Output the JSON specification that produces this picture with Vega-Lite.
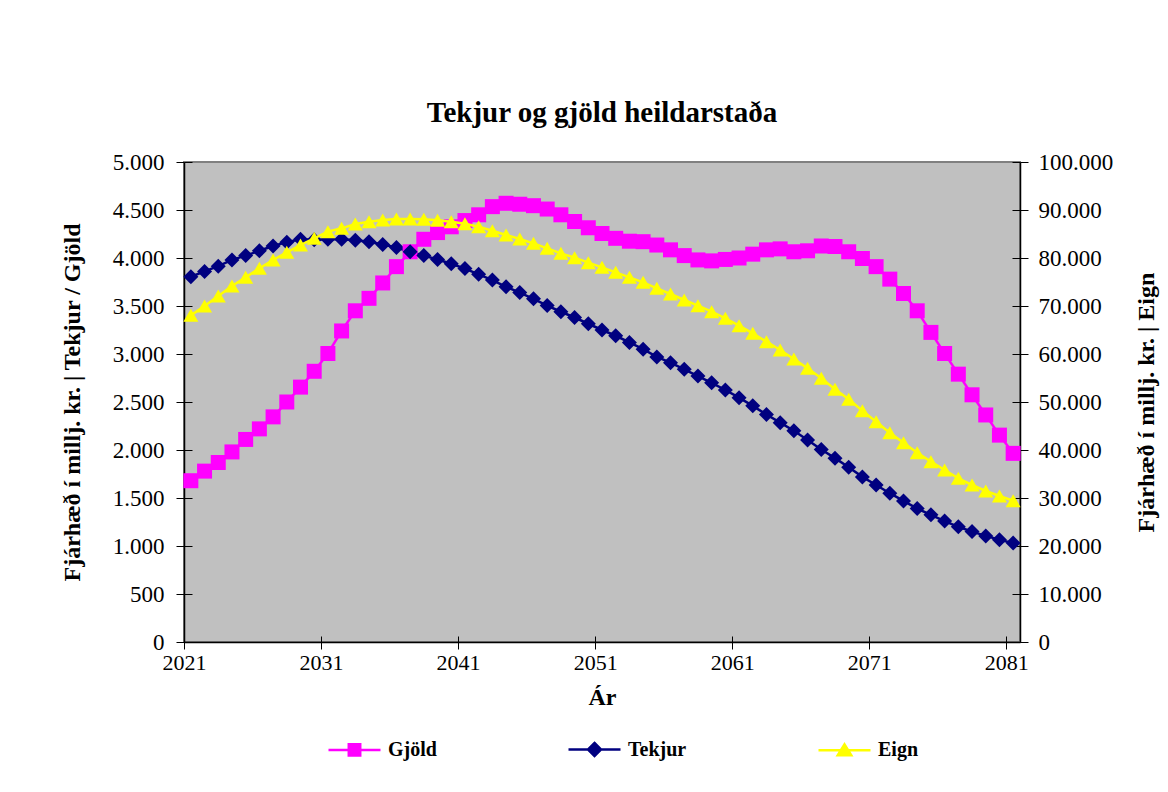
{
  "$schema": "https://vega.github.io/schema/vega-lite/v6.json",
  "width": 836,
  "height": 480,
  "autosize": "none",
  "padding": {"left": 184, "top": 162, "right": 148, "bottom": 150},
  "background": "white",
  "title": {"text": "Tekjur og gjöld heildarstaða", "font": "Liberation Serif", "fontSize": 29, "fontWeight": "bold", "color": "black", "anchor": "middle", "offset": 23},
  "config": {
    "locale": {"number": {"decimal": ",", "thousands": ".", "grouping": [3], "currency": ["", ""]}},
    "view": {"fill": "#C0C0C0", "stroke": "#808080", "strokeWidth": 2},
    "axis": {"labelFont": "Liberation Serif", "labelFontSize": 23, "labelColor": "black", "titleFont": "Liberation Serif", "titleFontSize": 24, "titleFontWeight": "bold", "titleColor": "black", "domainColor": "black", "domainWidth": 1.5, "tickColor": "black", "tickWidth": 1, "grid": true, "gridColor": "black", "gridWidth": 1, "gridDash": [8, 3000], "gridOpacity": 1, "labelFlush": false}
  },
  "data": {"values": [
    {"year": 2021, "Gjöld": 1680, "Tekjur": 3805, "Eign": 68050},
    {"year": 2022, "Gjöld": 1780, "Tekjur": 3860, "Eign": 70000},
    {"year": 2023, "Gjöld": 1870, "Tekjur": 3915, "Eign": 72080},
    {"year": 2024, "Gjöld": 1980, "Tekjur": 3980, "Eign": 74170},
    {"year": 2025, "Gjöld": 2110, "Tekjur": 4025, "Eign": 75970},
    {"year": 2026, "Gjöld": 2220, "Tekjur": 4075, "Eign": 77850},
    {"year": 2027, "Gjöld": 2345, "Tekjur": 4125, "Eign": 79580},
    {"year": 2028, "Gjöld": 2500, "Tekjur": 4165, "Eign": 81180},
    {"year": 2029, "Gjöld": 2655, "Tekjur": 4195, "Eign": 82710},
    {"year": 2030, "Gjöld": 2820, "Tekjur": 4190, "Eign": 84100},
    {"year": 2031, "Gjöld": 3005, "Tekjur": 4195, "Eign": 85490},
    {"year": 2032, "Gjöld": 3240, "Tekjur": 4195, "Eign": 86180},
    {"year": 2033, "Gjöld": 3450, "Tekjur": 4185, "Eign": 87080},
    {"year": 2034, "Gjöld": 3580, "Tekjur": 4170, "Eign": 87570},
    {"year": 2035, "Gjöld": 3740, "Tekjur": 4140, "Eign": 87920},
    {"year": 2036, "Gjöld": 3910, "Tekjur": 4110, "Eign": 88130},
    {"year": 2037, "Gjöld": 4065, "Tekjur": 4065, "Eign": 88130},
    {"year": 2038, "Gjöld": 4195, "Tekjur": 4025, "Eign": 88060},
    {"year": 2039, "Gjöld": 4265, "Tekjur": 3985, "Eign": 87850},
    {"year": 2040, "Gjöld": 4325, "Tekjur": 3940, "Eign": 87570},
    {"year": 2041, "Gjöld": 4390, "Tekjur": 3890, "Eign": 87150},
    {"year": 2042, "Gjöld": 4450, "Tekjur": 3830, "Eign": 86530},
    {"year": 2043, "Gjöld": 4535, "Tekjur": 3770, "Eign": 85690},
    {"year": 2044, "Gjöld": 4570, "Tekjur": 3700, "Eign": 84790},
    {"year": 2045, "Gjöld": 4560, "Tekjur": 3640, "Eign": 83960},
    {"year": 2046, "Gjöld": 4545, "Tekjur": 3575, "Eign": 83060},
    {"year": 2047, "Gjöld": 4510, "Tekjur": 3505, "Eign": 82010},
    {"year": 2048, "Gjöld": 4450, "Tekjur": 3440, "Eign": 80970},
    {"year": 2049, "Gjöld": 4380, "Tekjur": 3380, "Eign": 80070},
    {"year": 2050, "Gjöld": 4315, "Tekjur": 3315, "Eign": 79030},
    {"year": 2051, "Gjöld": 4255, "Tekjur": 3250, "Eign": 78060},
    {"year": 2052, "Gjöld": 4205, "Tekjur": 3190, "Eign": 77010},
    {"year": 2053, "Gjöld": 4175, "Tekjur": 3120, "Eign": 75970},
    {"year": 2054, "Gjöld": 4170, "Tekjur": 3050, "Eign": 74930},
    {"year": 2055, "Gjöld": 4135, "Tekjur": 2970, "Eign": 73680},
    {"year": 2056, "Gjöld": 4085, "Tekjur": 2910, "Eign": 72500},
    {"year": 2057, "Gjöld": 4025, "Tekjur": 2840, "Eign": 71250},
    {"year": 2058, "Gjöld": 3980, "Tekjur": 2770, "Eign": 70070},
    {"year": 2059, "Gjöld": 3970, "Tekjur": 2700, "Eign": 68820},
    {"year": 2060, "Gjöld": 3985, "Tekjur": 2625, "Eign": 67430},
    {"year": 2061, "Gjöld": 4000, "Tekjur": 2545, "Eign": 65900},
    {"year": 2062, "Gjöld": 4040, "Tekjur": 2460, "Eign": 64310},
    {"year": 2063, "Gjöld": 4085, "Tekjur": 2370, "Eign": 62570},
    {"year": 2064, "Gjöld": 4095, "Tekjur": 2285, "Eign": 60830},
    {"year": 2065, "Gjöld": 4065, "Tekjur": 2200, "Eign": 58960},
    {"year": 2066, "Gjöld": 4075, "Tekjur": 2105, "Eign": 57010},
    {"year": 2067, "Gjöld": 4125, "Tekjur": 2005, "Eign": 54930},
    {"year": 2068, "Gjöld": 4120, "Tekjur": 1915, "Eign": 52640},
    {"year": 2069, "Gjöld": 4065, "Tekjur": 1820, "Eign": 50560},
    {"year": 2070, "Gjöld": 3995, "Tekjur": 1720, "Eign": 48190},
    {"year": 2071, "Gjöld": 3910, "Tekjur": 1635, "Eign": 45900},
    {"year": 2072, "Gjöld": 3780, "Tekjur": 1550, "Eign": 43610},
    {"year": 2073, "Gjöld": 3630, "Tekjur": 1470, "Eign": 41530},
    {"year": 2074, "Gjöld": 3450, "Tekjur": 1390, "Eign": 39440},
    {"year": 2075, "Gjöld": 3225, "Tekjur": 1325, "Eign": 37570},
    {"year": 2076, "Gjöld": 3005, "Tekjur": 1260, "Eign": 35830},
    {"year": 2077, "Gjöld": 2790, "Tekjur": 1200, "Eign": 34100},
    {"year": 2078, "Gjöld": 2575, "Tekjur": 1150, "Eign": 32710},
    {"year": 2079, "Gjöld": 2365, "Tekjur": 1105, "Eign": 31460},
    {"year": 2080, "Gjöld": 2155, "Tekjur": 1065, "Eign": 30420},
    {"year": 2081, "Gjöld": 1965, "Tekjur": 1030, "Eign": 29440}
  ]},
  "encoding": {
    "x": {"field": "year", "type": "quantitative",
      "scale": {"domain": [2020.5, 2081.5], "nice": false, "zero": false},
      "axis": {"title": "Ár", "grid": true, "gridDash": [0, 474, 6, 3000], "values": [2020.5, 2030.5, 2040.5, 2050.5, 2060.5, 2070.5, 2080.5], "labelExpr": "format(datum.value + 0.5, 'd')", "labelFontSize": 22, "tickSize": 7, "labelPadding": 3, "titlePadding": 12}}
  },
  "layer": [
    {
      "transform": [{"fold": ["Gjöld", "Tekjur"], "as": ["series", "value"]}],
      "encoding": {
        "y": {"field": "value", "type": "quantitative", "scale": {"domain": [0, 5000], "nice": false},
          "axis": {"orient": "left", "grid": true, "title": "Fjárhæð í millj. kr. | Tekjur / Gjöld", "values": [0, 500, 1000, 1500, 2000, 2500, 3000, 3500, 4000, 4500, 5000], "format": ",.0f", "tickSize": 8, "labelPadding": 12, "titlePadding": 28}}
      },
      "layer": [
        {"mark": {"type": "line", "strokeWidth": 2.5},
          "encoding": {"color": {"field": "series", "type": "nominal",
            "scale": {"domain": ["Gjöld", "Tekjur", "Eign"], "range": ["#FF00FF", "#000080", "#FFFF00"]},
            "legend": {"title": null, "orient": "none", "legendX": 143, "legendY": 560, "direction": "horizontal", "columns": 3, "columnPadding": 126, "padding": 0,
              "labelFont": "Liberation Serif", "labelFontSize": 20, "labelFontWeight": "bold", "labelColor": "black", "labelOffset": 6,
              "symbolSize": 2704, "symbolStrokeWidth": 2.5,
              "symbolType": {"expr": "datum.value === 'Gjöld' ? 'M-1,0H1M-0.22,-0.22H0.22V0.22H-0.22Z' : datum.value === 'Tekjur' ? 'M-1,0H1M0,-0.25L0.25,0L0,0.25L-0.25,0Z' : 'M-1,0H1M0,-0.22L0.26,0.2H-0.26Z'"},
              "symbolFillColor": {"expr": "datum.value === 'Gjöld' ? '#FF00FF' : datum.value === 'Tekjur' ? '#000080' : '#FFFF00'"}}}}},
        {"mark": {"type": "point", "filled": true, "opacity": 1, "size": 225},
          "encoding": {
            "color": {"field": "series", "type": "nominal", "legend": null},
            "shape": {"field": "series", "type": "nominal", "scale": {"domain": ["Gjöld", "Tekjur"], "range": ["square", "diamond"]}, "legend": null}}}
      ]
    },
    {
      "encoding": {
        "y": {"field": "Eign", "type": "quantitative", "scale": {"domain": [0, 100000], "nice": false},
          "axis": {"orient": "right", "grid": true, "title": "Fjárhæð í millj. kr. | Eign", "values": [0, 10000, 20000, 30000, 40000, 50000, 60000, 70000, 80000, 90000, 100000], "format": ",.0f", "tickSize": 8, "labelPadding": 10, "titlePadding": 22, "titleAngle": 270, "titleBaseline": "top"}}
      },
      "layer": [
        {"mark": {"type": "line", "strokeWidth": 2.5},
          "encoding": {"color": {"datum": "Eign", "type": "nominal", "legend": null}}},
        {"mark": {"type": "point", "filled": true, "opacity": 1, "size": 225, "shape": "triangle-up"},
          "encoding": {"color": {"datum": "Eign", "type": "nominal", "legend": null}}}
      ]
    }
  ],
  "resolve": {"scale": {"y": "independent"}}
}
